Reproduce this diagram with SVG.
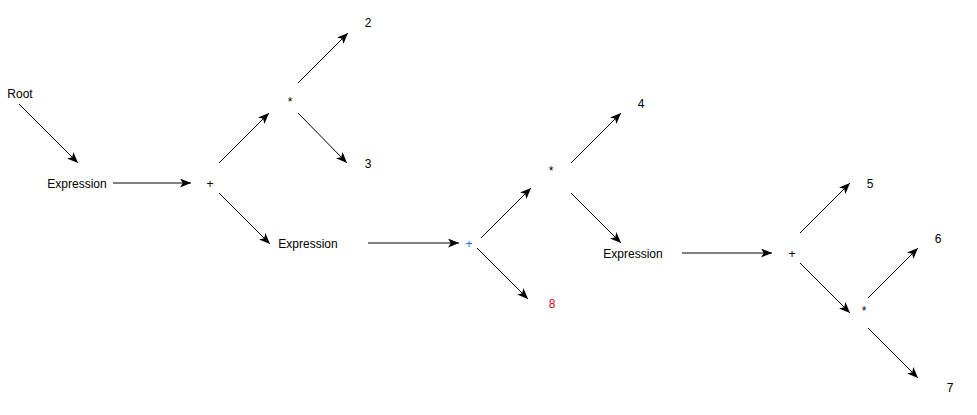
<svg xmlns="http://www.w3.org/2000/svg" width="977" height="415" viewBox="0 0 977 415">
<style>
text{font-family:"Liberation Sans",Arial,sans-serif;font-size:12px;fill:#000;text-anchor:middle}
.e line{stroke:#000;stroke-width:1;fill:none;marker-end:url(#a)}
.blue{fill:#1a66ff}
.red{fill:#dd0022}
</style>
<defs>
<marker id="a" markerWidth="13" markerHeight="11" refX="11" refY="4.5" orient="auto" markerUnits="userSpaceOnUse">
<path d="M0,0 L11,4.5 L0,9 L2.8,4.5 z" fill="#000"/>
</marker>
</defs>
<rect width="977" height="415" fill="#fff"/>
<g class="e" id="connectors">
<line x1="19" y1="104" x2="78" y2="163"/>
<line x1="113" y1="183" x2="191" y2="183"/>
<line x1="219" y1="163" x2="269" y2="113"/>
<line x1="219" y1="193" x2="270" y2="244"/>
<line x1="298" y1="83" x2="348" y2="33"/>
<line x1="298" y1="113" x2="347" y2="163"/>
<line x1="368" y1="243" x2="459" y2="243"/>
<line x1="481" y1="238" x2="531" y2="188"/>
<line x1="477" y1="248" x2="528" y2="299"/>
<line x1="571" y1="163" x2="621" y2="113"/>
<line x1="571" y1="193" x2="621" y2="243"/>
<line x1="682" y1="253" x2="772" y2="253"/>
<line x1="800" y1="233" x2="850" y2="183"/>
<line x1="800" y1="263" x2="850" y2="313"/>
<line x1="868" y1="298" x2="918" y2="248"/>
<line x1="868" y1="328" x2="918" y2="378"/>
</g>
<g id="root"><text x="20" y="98">Root</text></g>
<g id="expr1"><text x="77" y="188">Expression</text></g>
<g id="plus1"><text x="210" y="188">+</text></g>
<g id="mul1"><text x="290" y="106">*</text></g>
<g id="n2"><text x="368" y="27">2</text></g>
<g id="n3"><text x="368" y="168">3</text></g>
<g id="expr2"><text x="308" y="248">Expression</text></g>
<g id="plus2"><text class="blue" x="469" y="248">+</text></g>
<g id="n8"><text class="red" x="552" y="308">8</text></g>
<g id="mul2"><text x="551" y="175">*</text></g>
<g id="n4"><text x="641" y="108">4</text></g>
<g id="expr3"><text x="633" y="258">Expression</text></g>
<g id="plus3"><text x="792" y="258">+</text></g>
<g id="n5"><text x="870" y="188">5</text></g>
<g id="mul3"><text x="864" y="315">*</text></g>
<g id="n6"><text x="938" y="243">6</text></g>
<g id="n7"><text x="950" y="392">7</text></g>
</svg>
